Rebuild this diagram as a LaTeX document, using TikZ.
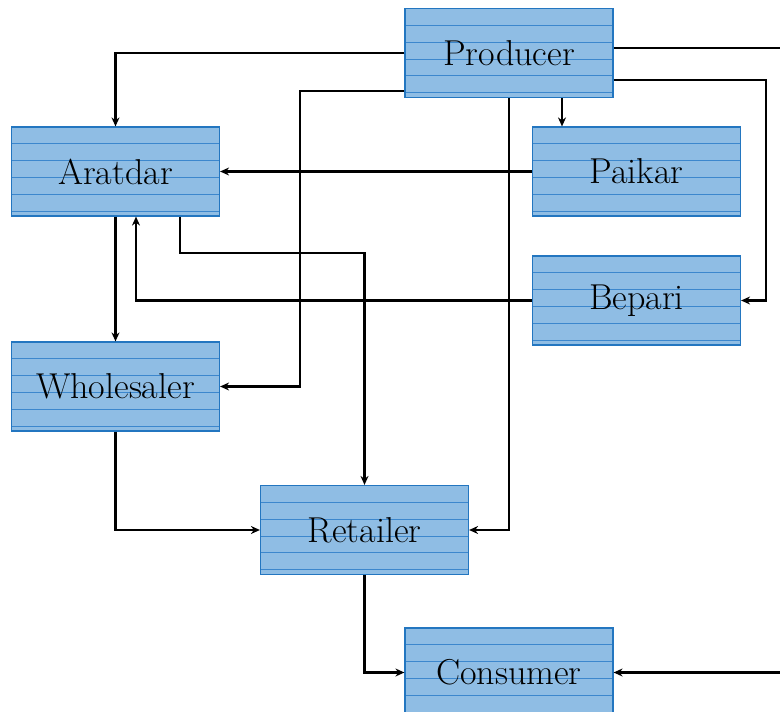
\documentclass[tikz,border=0pt]{standalone}
\usetikzlibrary{arrows.meta}
\definecolor{boxfill}{RGB}{143,189,228}
\definecolor{boxedge}{RGB}{35,118,192}
\definecolor{boxline}{RGB}{60,135,205}
\tikzset{
  chainbox/.style={
    draw=boxedge, line width=1.2pt, fill=boxfill,
    minimum width=208pt, minimum height=89pt, inner sep=0pt,
    font=\fontsize{36}{40}\selectfont,
    path picture={
      \foreach \k in {1,...,5} {
        \draw[boxline, line width=0.8pt]
          ([yshift=-\k*16.8pt]path picture bounding box.north west) --
          ([yshift=-\k*16.8pt]path picture bounding box.north east);
      }
    }
  },
  flow/.style={line width=2.2pt, -{Stealth[length=9pt,width=8pt]}}
}
\begin{document}
\begin{tikzpicture}[
  x=1pt,
  y=-1pt
]
\useasboundingbox (0,0) rectangle (780,712);
\clip (0,0) rectangle (780,712);

% boxes
\node[chainbox] (prod) at (509,53) {Producer};
\node[chainbox] (arat) at (115.5,171.5) {Aratdar};
\node[chainbox] (paik) at (636.5,171.5) {Paikar};
\node[chainbox] (bep) at (636.5,300.5) {Bepari};
\node[chainbox] (whole) at (115.5,386.5) {Wholesaler};
\node[chainbox] (ret) at (364.5,530) {Retailer};
\node[chainbox] (cons) at (509,672.5) {Consumer};

% bends
\coordinate (wbend) at (300,91);
\coordinate (bbend) at (766,80);
\coordinate (cbend) at (820,48);

% from the producer
\draw[flow] (prod.west) -| (arat.north);
\draw[flow] ([yshift=-38pt]prod.west) -- (wbend) |- (whole.east);
\draw[flow] ([yshift=-27pt]prod.east) -- (bbend) |- (bep.east);
\draw[flow] (prod.south) |- (ret.east);
\draw[flow] ([xshift=53pt]prod.south) -- ([xshift=53pt]prod.south |- paik.north);
\draw[flow] ([yshift=5pt]prod.east) -- (cbend) |- (cons.east);

% middlemen
\draw[flow] (paik.west) -- (arat.east);
\draw[flow] (bep.west) -| ([xshift=20.5pt]arat.south);
\draw[flow] (arat.south) -- (whole.north);
\draw[flow] ([xshift=64.5pt]arat.south) -- ++(0,36) -| (ret.north);
\draw[flow] (whole.south) |- (ret.west);
\draw[flow] (ret.south) |- (cons.west);
\end{tikzpicture}
\end{document}
